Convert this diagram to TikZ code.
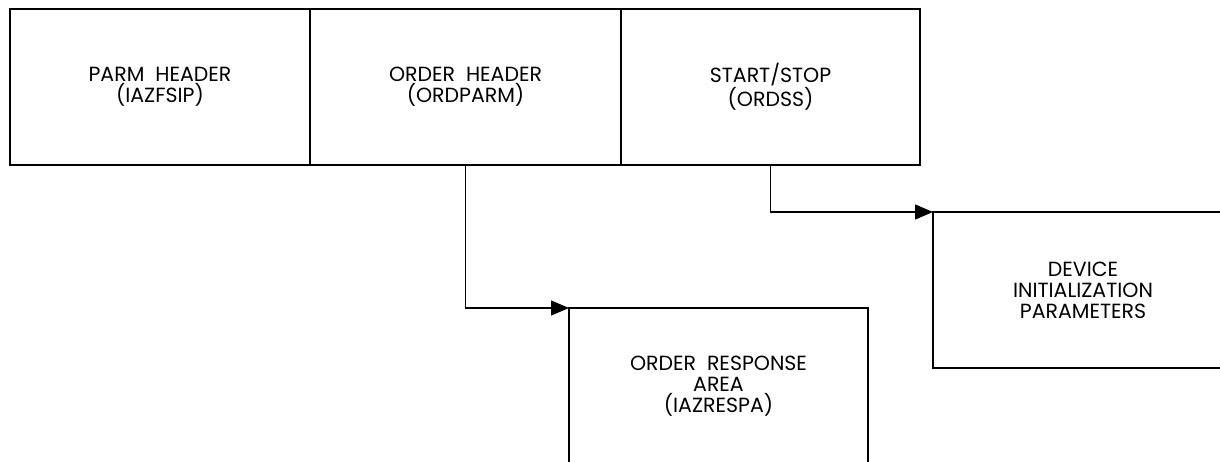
\documentclass[tikz,border=0pt]{standalone}
\usepackage{fontspec}
\setmainfont{Poppins}
\usetikzlibrary{arrows.meta}

\begin{document}
\begin{tikzpicture}[x=1pt,y=-1pt,
  blk/.style={draw,line width=1.5pt,minimum height=156pt,inner sep=0pt,outer sep=0pt,
    align=center,font=\fontsize{20.5}{21}\selectfont},
  link/.style={-{Triangle[length=18pt,width=15pt]},line width=1.5pt}]
\useasboundingbox (0,0) rectangle (1220,462);
\clip (0,0) rectangle (1220,462);
% top row
\node[blk,minimum width=300pt] (parm) at (160,87) {PARM\ \ HEADER\\(IAZFSIP)};
\node[blk,minimum width=311pt] (ordhdr) at (465.5,87) {ORDER\ \ HEADER\\(ORDPARM)};
\node[blk,minimum width=299pt] (startstop) at (770.5,87) {START/STOP\\(ORDSS)};
% lower boxes
\node[blk,minimum width=299pt] (resp) at (718.5,386) {ORDER\ \ RESPONSE\\AREA\\(IAZRESPA)};
\node[blk,minimum width=300pt] (devinit) at (1083,290) {DEVICE\\INITIALIZATION\\PARAMETERS};
% links
\draw[link] (ordhdr.south) |- (resp.north west);
\draw[link] (startstop.south) |- (devinit.north west);
\end{tikzpicture}
\end{document}
